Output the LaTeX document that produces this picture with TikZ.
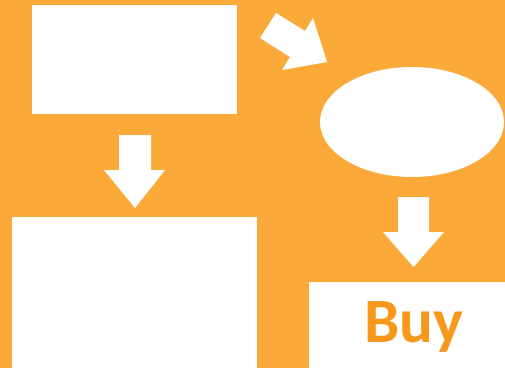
\documentclass[tikz,border=0pt]{standalone}
\usepackage{fontspec}
\newfontfamily\buyfont{Carlito}
\usetikzlibrary{shapes.geometric}
\definecolor{bg}{RGB}{251,170,58}
\definecolor{buyc}{RGB}{247,152,29}
\begin{document}
\begin{tikzpicture}[x=1pt,y=-1pt,
  box/.style={rectangle,fill=white,draw=none,inner sep=0pt,outer sep=0pt},
  oval/.style={ellipse,fill=white,draw=none,inner sep=0pt,outer sep=0pt},
  blockarrow/.style={fill=white,draw=none},
  buytext/.style={text=buyc,font=\buyfont\bfseries\fontsize{63}{63}\selectfont,inner sep=0pt,anchor=base}]
\fill[bg] (0,0) rectangle (505,368);
\useasboundingbox (0,0) rectangle (505,368);
\clip (0,0) rectangle (505,368);
% boxes
\node[box,minimum width=205pt,minimum height=109pt] (topbox) at (134.5,59.5) {};
\node[box,minimum width=245pt,minimum height=155pt] (botbox) at (134.5,294.5) {};
\node[oval,minimum width=184pt,minimum height=110pt] (oval) at (412,122) {};
\node[box,minimum width=200pt,minimum height=90pt] (buybox) at (409,327) {};
\node[buytext] (buy) at (414,342) {Buy};
% block arrows
\fill[blockarrow] (119,135) -- (151,135) -- (151,170) -- (165,170) -- (135,208) -- (104,170) -- (119,170) -- cycle;
\fill[blockarrow] (398,197) -- (429,197) -- (429,232) -- (444,232) -- (413.5,267) -- (383,232) -- (398,232) -- cycle;
\fill[blockarrow] (276,13) -- (305,31) -- (313,18) -- (327,62) -- (282,70) -- (290,57) -- (260,38) -- cycle;
\end{tikzpicture}
\end{document}
